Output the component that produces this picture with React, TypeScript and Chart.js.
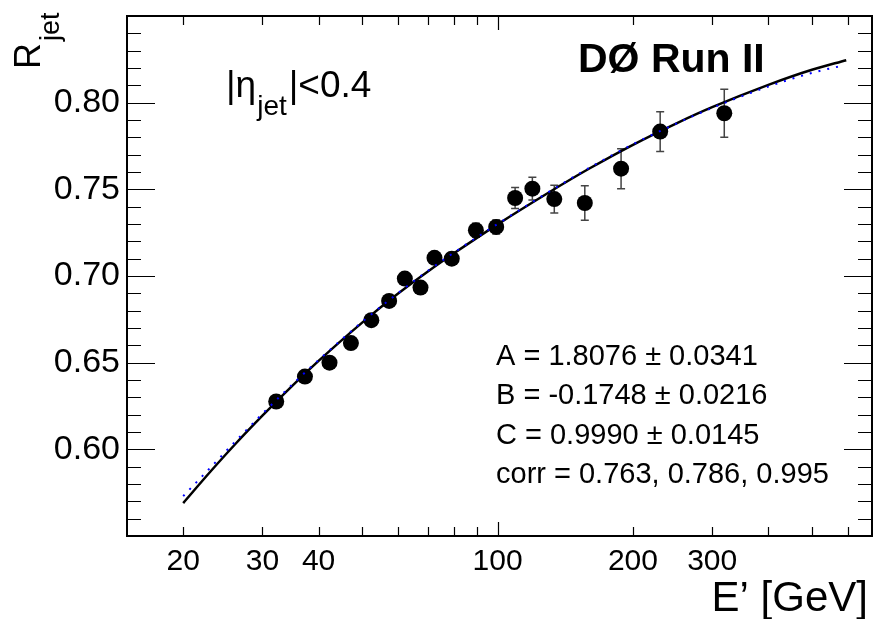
import React, { useEffect, useRef } from 'react';
import { Chart, registerables } from 'chart.js';

Chart.register(...registerables);

// Measured data points (E' in GeV, response, error)
const pointE = [32.2, 37.3, 42.3, 47.2, 52.4, 57.4, 62.2, 67.4, 72.4, 79.1, 89.5, 99.3, 109.4, 119.5, 133.7, 156.3, 188.2, 229.9, 319.2];
const pointR = [0.6276, 0.642, 0.650, 0.6613, 0.6745, 0.6856, 0.6985, 0.6933, 0.7105, 0.710, 0.7264, 0.7283, 0.745, 0.7504, 0.7444, 0.7421, 0.7619, 0.7833, 0.7939];
const pointErr = [0.002, 0.002, 0.002, 0.002, 0.002, 0.003, 0.003, 0.003, 0.003, 0.003, 0.004, 0.004, 0.006, 0.0065, 0.008, 0.010, 0.0115, 0.0115, 0.0138];

// Fit curve (black, solid)
const fitE = [20, 23, 26, 30, 35, 40, 50, 60, 70, 80, 100, 130, 160, 200, 250, 300, 400, 500, 596];
const fitR = [0.569, 0.5872, 0.6025, 0.6194, 0.6368, 0.651, 0.6731, 0.6897, 0.7026, 0.7131, 0.7298, 0.7482, 0.762, 0.7757, 0.7881, 0.7974, 0.8103, 0.819, 0.8245];

// Alternative curve (blue, dotted)
const altE = [20, 23, 26, 30, 35, 40, 50, 60, 70, 80, 100, 130, 160, 200, 250, 300, 400, 500, 588];
const altR = [0.573, 0.5895, 0.604, 0.6205, 0.6375, 0.6515, 0.6735, 0.69, 0.703, 0.7135, 0.730, 0.7485, 0.7624, 0.776, 0.788, 0.797, 0.8093, 0.8172, 0.8215];

// Axis ticks
const xTickLabels = [20, 30, 40, 100, 200, 300];
const xMinorTicks = [20, 30, 40, 50, 60, 70, 80, 90, 200, 300, 400, 500, 600];
const xMajorTicks = [100];
const yTickLabels = [0.60, 0.65, 0.70, 0.75, 0.80];
const yMinorTicks = [0.56, 0.57, 0.58, 0.59, 0.61, 0.62, 0.63, 0.64, 0.66, 0.67, 0.68, 0.69, 0.71, 0.72, 0.73, 0.74, 0.76, 0.77, 0.78, 0.79, 0.81, 0.82, 0.83, 0.84];

const fitText = ['A = 1.8076 \u00b1 0.0341', 'B = -0.1748 \u00b1 0.0216', 'C = 0.9990 \u00b1 0.0145', 'corr = 0.763, 0.786, 0.995'];

const FONT = '"Liberation Sans", Arial, Helvetica, sans-serif';

const errorBarPlugin = {
  id: 'errorBars',
  beforeDatasetsDraw(chart: any) {
    const { ctx, scales } = chart;
    const x = scales.x;
    const y = scales.y;
    ctx.save();
    ctx.strokeStyle = '#444';
    ctx.lineWidth = 1.5;
    pointE.forEach((e, i) => {
      const px = x.getPixelForValue(e);
      const top = y.getPixelForValue(pointR[i] + pointErr[i]);
      const bot = y.getPixelForValue(pointR[i] - pointErr[i]);
      ctx.beginPath();
      ctx.moveTo(px, top);
      ctx.lineTo(px, bot);
      ctx.moveTo(px - 4, top);
      ctx.lineTo(px + 4, top);
      ctx.moveTo(px - 4, bot);
      ctx.lineTo(px + 4, bot);
      ctx.stroke();
    });
    ctx.restore();
  },
};

const framePlugin = {
  id: 'frame',
  afterDatasetsDraw(chart: any) {
    const { ctx, chartArea: a, scales } = chart;
    const x = scales.x;
    const y = scales.y;
    ctx.save();
    ctx.strokeStyle = '#000';
    ctx.lineWidth = 1.2;
    ctx.beginPath();
    const xt = (vals: number[], len: number) => {
      vals.forEach((v) => {
        const px = Math.round(x.getPixelForValue(v)) + 0.5;
        ctx.moveTo(px, a.bottom);
        ctx.lineTo(px, a.bottom - len);
        ctx.moveTo(px, a.top);
        ctx.lineTo(px, a.top + len);
      });
    };
    const yt = (vals: number[], len: number) => {
      vals.forEach((v) => {
        const py = Math.round(y.getPixelForValue(v)) + 0.5;
        ctx.moveTo(a.left, py);
        ctx.lineTo(a.left + len, py);
        ctx.moveTo(a.right, py);
        ctx.lineTo(a.right - len, py);
      });
    };
    xt(xMinorTicks, 9);
    xt(xMajorTicks, 14);
    yt(yMinorTicks, 14);
    yt(yTickLabels, 28);
    ctx.stroke();
    ctx.lineWidth = 2;
    ctx.strokeRect(a.left, a.top, a.right - a.left, a.bottom - a.top);
    ctx.restore();
  },
};

const textPlugin = {
  id: 'texts',
  afterDraw(chart: any) {
    const { ctx } = chart;
    ctx.save();
    ctx.fillStyle = '#000';
    ctx.textBaseline = 'alphabetic';
    ctx.textAlign = 'left';

    // |eta_jet|<0.4
    let xx = 226;
    ctx.font = `37px ${FONT}`;
    ctx.fillText('|\u03b7', xx, 97);
    xx += ctx.measureText('|\u03b7').width + 1;
    ctx.font = `28px ${FONT}`;
    ctx.fillText('jet', xx, 115);
    xx += ctx.measureText('jet').width + 2;
    ctx.font = `37px ${FONT}`;
    ctx.fillText('|<0.4', xx, 97);

    // DØ Run II
    ctx.font = `bold 41px ${FONT}`;
    ctx.fillText('D\u00d8 Run II', 578, 72);

    // Fit parameters
    ctx.font = `29px ${FONT}`;
    const baselines = [365, 404, 444, 483];
    fitText.forEach((t, i) => ctx.fillText(t, 496, baselines[i]));

    // X axis title
    ctx.font = `42px ${FONT}`;
    ctx.textAlign = 'right';
    ctx.fillText('E\u2019 [GeV]', 868, 611);

    // Y axis title (rotated)
    ctx.save();
    ctx.translate(40, 69);
    ctx.rotate(-Math.PI / 2);
    ctx.textAlign = 'left';
    ctx.font = `36px ${FONT}`;
    ctx.fillText('R', 0, 0);
    const rw = ctx.measureText('R').width;
    ctx.font = `27px ${FONT}`;
    ctx.fillText('jet', rw + 2, 19);
    ctx.restore();

    ctx.restore();
  },
};

export default function App() {
  const ref = useRef<HTMLCanvasElement | null>(null);

  useEffect(() => {
    if (!ref.current) return;
    const chart = new Chart(ref.current, {
      type: 'scatter',
      data: {
        datasets: [
          {
            label: 'data',
            data: pointE.map((e, i) => ({ x: e, y: pointR[i] })),
            showLine: false,
            pointRadius: 8,
            pointBackgroundColor: '#000',
            pointBorderColor: '#000',
            pointBorderWidth: 0,
            order: 3,
          },
          {
            label: 'fit',
            data: fitE.map((e, i) => ({ x: e, y: fitR[i] })),
            showLine: true,
            borderColor: '#000',
            borderWidth: 2.5,
            pointRadius: 0,
            cubicInterpolationMode: 'monotone',
            order: 2,
          },
          {
            label: 'alt',
            data: altE.map((e, i) => ({ x: e, y: altR[i] })),
            showLine: true,
            borderColor: '#0000ff',
            borderWidth: 2,
            borderDash: [2, 7],
            pointRadius: 0,
            cubicInterpolationMode: 'monotone',
            order: 1,
          },
        ],
      },
      options: {
        animation: false,
        responsive: false,
        events: [],
        layout: { padding: { top: 16, right: 4, left: 0, bottom: 0 } },
        plugins: { legend: { display: false }, tooltip: { enabled: false } },
        scales: {
          x: {
            type: 'logarithmic',
            min: 15,
            max: 680,
            grid: { display: false, drawTicks: false },
            border: { display: false },
            afterBuildTicks: (s: any) => {
              s.ticks = xTickLabels.map((v) => ({ value: v }));
            },
            afterFit: (s: any) => {
              s.height = 83;
              s.paddingLeft = 0;
              s.paddingRight = 0;
            },
            ticks: {
              autoSkip: false,
              maxRotation: 0,
              minRotation: 0,
              padding: 8,
              color: '#000',
              font: { family: FONT, size: 30 },
              callback: (v: any) => String(v),
            },
          },
          y: {
            type: 'linear',
            min: 0.55,
            max: 0.85,
            grid: { display: false, drawTicks: false },
            border: { display: false },
            afterBuildTicks: (s: any) => {
              s.ticks = yTickLabels.map((v) => ({ value: v }));
            },
            afterFit: (s: any) => {
              s.width = 127;
              s.paddingTop = 0;
              s.paddingBottom = 0;
            },
            ticks: {
              autoSkip: false,
              padding: 7,
              color: '#000',
              font: { family: FONT, size: 34 },
              callback: (v: any) => Number(v).toFixed(2),
            },
          },
        },
      },
      plugins: [errorBarPlugin, framePlugin, textPlugin],
    } as any);
    return () => chart.destroy();
  }, []);

  return (
    <div style={{ position: 'absolute', left: 0, top: 0, width: 880, height: 619, background: '#fff' }}>
      <canvas ref={ref} width={880} height={619} style={{ display: 'block' }} />
    </div>
  );
}
